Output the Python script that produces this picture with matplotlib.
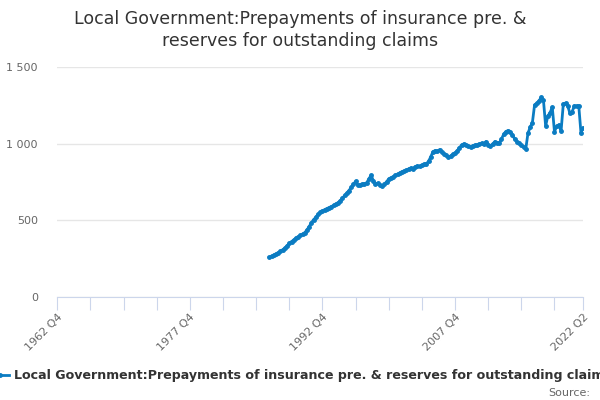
import matplotlib
matplotlib.use('Agg')
import matplotlib.pyplot as plt
from matplotlib.lines import Line2D

# quarterly series, 1986 Q4 .. 2022 Q2
start_q = 96  # quarters after 1962 Q4
values = [
    259,
    266, 274, 281, 290,      # 1987
    298, 308, 320, 335,      # 1988
    350, 362, 372, 385,      # 1989
    393, 403, 410, 420,      # 1990
    438, 460, 485, 505,      # 1991
    520, 540, 553, 562,      # 1992
    570, 577, 583, 590,      # 1993
    598, 606, 615, 628,      # 1994
    645, 663, 680, 695,      # 1995
    715, 735, 755, 728,      # 1996
    732, 735, 740, 745,      # 1997
    770, 795, 760, 738,      # 1998
    742, 728, 722, 735,      # 1999
    752, 770, 778, 785,      # 2000
    795, 800, 810, 818,      # 2001
    822, 828, 836, 842,      # 2002
    838, 850, 855, 852,      # 2003
    860, 866, 870, 885,      # 2004
    915, 948, 955, 950,      # 2005
    962, 945, 935, 925,      # 2006
    912, 920, 932, 940,      # 2007
    955, 975, 992, 999,      # 2008
    992, 985, 980, 988,      # 2009
    990, 993, 998, 1004,     # 2010
    1000, 1014, 995, 986,    # 2011
    998, 1014, 1006, 1004,   # 2012
    1030, 1062, 1080, 1086,  # 2013
    1078, 1060, 1030, 1015,  # 2014
    1005, 990, 978, 965,     # 2015
    1069, 1108, 1138, 1254,  # 2016
    1265, 1280, 1304, 1286,  # 2017
    1117, 1182, 1203, 1239,  # 2018
    1079, 1115, 1123, 1086,  # 2019
    1260, 1265, 1247, 1199,  # 2020
    1210, 1247, 1247, 1247,  # 2021
    1069, 1102,              # 2022
]
quarters = list(range(start_q, start_q + len(values)))

last_q = 238
tick_labels = {0: '1962 Q4', 60: '1977 Q4', 120: '1992 Q4', 180: '2007 Q4', 238: '2022 Q2'}
minor_ticks = list(range(0, 226, 15)) + [last_q]

title = 'Local Government:Prepayments of insurance pre. &\nreserves for outstanding claims'
series_name = 'Local Government:Prepayments of insurance pre. & reserves for outstanding claims'
line_color = '#0b7cc2'

fig = plt.figure(figsize=(6, 4), dpi=100)
ax = fig.add_axes([0.0955, 0.2575, 0.8765, 0.5745])

ax.plot(quarters, values, color=line_color, linewidth=2, marker='o', markersize=2.5)

ax.set_xlim(0, last_q)
ax.set_ylim(0, 1500)
ax.set_yticks([0, 500, 1000, 1500])
ax.set_yticklabels(['0', '500', '1 000', '1 500'])
ax.yaxis.grid(True, color='#e6e6e6', linewidth=1)
ax.set_axisbelow(True)

ax.set_xticks(minor_ticks)
ax.set_xticklabels([tick_labels.get(t, '') for t in minor_ticks], rotation=45,
                   ha='right', va='top', rotation_mode='anchor')

for s in ['top', 'right', 'left']:
    ax.spines[s].set_visible(False)
ax.spines['bottom'].set_color('#ccd6eb')
ax.tick_params(axis='y', length=0, labelsize=8, labelcolor='#666666', pad=14)
ax.tick_params(axis='x', length=9, color='#ccd6eb', labelsize=8, labelcolor='#666666', pad=2)

fig.suptitle(title, y=0.975, fontsize=12.5, color='#333333', linespacing=1.25)

handle = Line2D([], [], color=line_color, linewidth=2, marker='o', markersize=2.5)
fig.legend([handle], [series_name], loc='center left', bbox_to_anchor=(-0.032, 0.06),
           frameon=False, handlelength=1.3, handletextpad=0.4,
           prop={'size': 9.1, 'weight': 'bold'}, labelcolor='#333333')

fig.text(0.983, 0.005, 'Source:', ha='right', va='bottom', fontsize=8, color='#666666')

fig.savefig('out.png', dpi=100)
